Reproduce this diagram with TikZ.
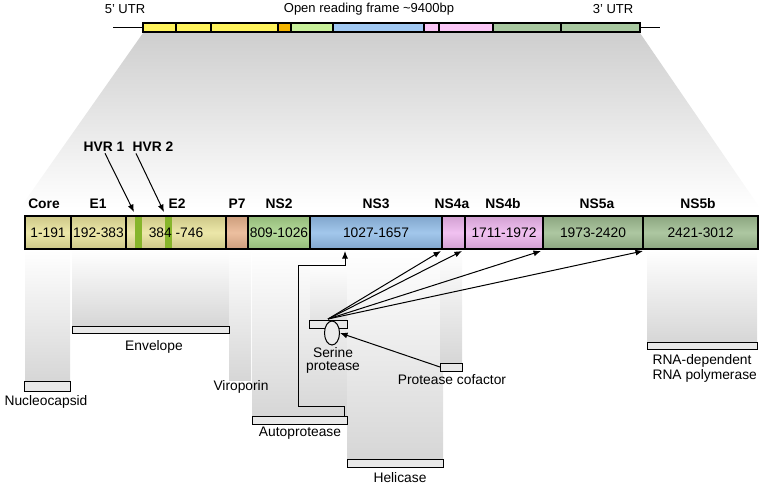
\documentclass[tikz,border=0pt]{standalone}
\usepackage{fontspec}
\setmainfont{Liberation Sans}
\usetikzlibrary{shapes.geometric,arrows.meta}
\definecolor{tyel}{HTML}{FFF35C}
\definecolor{tora}{HTML}{F4B400}
\definecolor{tgrn}{HTML}{C8F09A}
\definecolor{tblu}{HTML}{A0C8F2}
\definecolor{tpnk}{HTML}{FAC6F6}
\definecolor{tgg}{HTML}{A8C8A0}
\definecolor{ky}{HTML}{E9E39A}
\definecolor{hvr}{HTML}{86B52B}
\definecolor{cp7}{HTML}{E9B48E}
\definecolor{cns2}{HTML}{A8D48A}
\definecolor{cns3}{HTML}{92BDE8}
\definecolor{cns4}{HTML}{EEB6EE}
\definecolor{cns5}{HTML}{9FBD91}
\newcommand{\fs}{\fontsize{13.8}{15}\selectfont}
\newcommand{\fst}{\fontsize{13}{15}\selectfont}
\begin{document}
\begin{tikzpicture}[x=1pt,y=-1pt, line width=1.1pt,
  seg/.style={draw=black, inner sep=0pt, outer sep=0pt, anchor=north west, minimum height=33pt, font=\fs,
    top color=#1!88!black, bottom color=#1!88!black, middle color=#1!85!white},
  tseg/.style={draw=black, fill=#1, inner sep=0pt, outer sep=0pt, anchor=north west, minimum height=9pt},
  lab/.style={font=\fs\bfseries, inner sep=1pt},
  pbar/.style={draw=black, fill=gray!18, inner sep=0pt, outer sep=0pt, anchor=north west, line width=1pt},
  txt/.style={font=\fs, inner sep=1pt},
  col/.style={top color=white, bottom color=gray!32, draw=none},
  arr/.style={-{Latex[length=7.5pt,width=6pt]}, line width=1pt}]
\useasboundingbox (0,0) rectangle (765,487);

% grey trapezoid
\shade[top color=gray!38, bottom color=white] (143,33) -- (640,33) -- (760,208) -- (20,208) -- cycle;

% top bar
\node[txt, font=\fst] (utr5) at (125,9) {5' UTR};
\node[txt, font=\fst] (orf) at (369,9) {Open reading frame \textasciitilde 9400bp};
\node[txt, font=\fst] (utr3) at (613,9) {3' UTR};
\node[tseg=tyel, minimum width=33pt] (t1) at (143,23) {};
\node[tseg=tyel, minimum width=35pt] (t2) at (176,23) {};
\node[tseg=tyel, minimum width=67pt] (t3) at (211,23) {};
\node[tseg=tora, minimum width=13pt] (t4) at (278,23) {};
\node[tseg=tgrn, minimum width=42pt] (t5) at (291,23) {};
\node[tseg=tblu, minimum width=91pt] (t6) at (333,23) {};
\node[tseg=tpnk, minimum width=15pt] (t7) at (424,23) {};
\node[tseg=tpnk, minimum width=54pt] (t8) at (439,23) {};
\node[tseg=tgg, minimum width=68pt] (t9) at (493,23) {};
\node[tseg=tgg, minimum width=79pt] (t10) at (561,23) {};
\coordinate (lend) at (113,27.5);
\coordinate (rend) at (660,27.5);
\draw (lend) -- (t1.west);
\draw (t10.east) -- (rend);

% columns below the main bar
\shade[col] (25,250) rectangle (70,381);
\shade[col] (72,250) rectangle (229,326);
\shade[col] (229,250) rectangle (251,380);
\shade[col] (252,250) rectangle (347,416);
\shade[col, bottom color=gray!22] (310,262) rectangle (347,320);
\shade[col] (347,250) rectangle (443,459);
\shade[col] (440,250) rectangle (462,363);
\shade[col] (647,250) rectangle (757,342);

% main bar
\node[seg=ky, minimum width=46pt] (core) at (25,216) {1-191};
\node[seg=ky, minimum width=55pt] (e1) at (71,216) {192-383};
\node[seg=ky, minimum width=100pt] (e2) at (126,216) {};
\fill[hvr] (135,216.6) rectangle (142,248.4);
\fill[hvr] (165,216.6) rectangle (172,248.4);
\node[txt] (e2t) at (e2.center) {384 -746};
\node[seg=cp7, minimum width=22pt] (p7) at (226,216) {};
\node[seg=cns2, minimum width=62pt] (ns2) at (248,216) {809-1026};
\node[seg=cns3, minimum width=132pt] (ns3) at (310,216) {1027-1657};
\node[seg=cns4, minimum width=23pt] (ns4a) at (442,216) {};
\node[seg=cns4, minimum width=78pt] (ns4b) at (465,216) {1711-1972};
\node[seg=cns5, minimum width=100pt] (ns5a) at (543,216) {1973-2420};
\node[seg=cns5, minimum width=115pt] (ns5b) at (643,216) {2421-3012};

% labels above
\node[lab] (lcore) at (44,204) {Core};
\node[lab] (le1) at (98,204) {E1};
\node[lab] (le2) at (177,204) {E2};
\node[lab] (lp7) at (237,204) {P7};
\node[lab] (lns2) at (279,204) {NS2};
\node[lab] (lns3) at (376,204) {NS3};
\node[lab] (lns4a) at (452,204) {NS4a};
\node[lab] (lns4b) at (503,204) {NS4b};
\node[lab] (lns5a) at (597,204) {NS5a};
\node[lab] (lns5b) at (698,204) {NS5b};
\node[lab] (hvr1) at (104,147) {HVR 1};
\node[lab] (hvr2) at (153,147) {HVR 2};
\coordinate (h1tip) at (134,212);
\coordinate (h2tip) at (164,212);
\draw[arr] (hvr1.south) ++(1,0) -- (h1tip);
\draw[arr] (hvr2.south) ++(-17,0) -- (h2tip);

% protein bars and labels
\node[pbar, minimum width=46pt, minimum height=10pt] (nuc) at (24,381) {};
\node[txt, anchor=north] (lnuc) at (46,394) {Nucleocapsid};
\node[pbar, minimum width=157pt, minimum height=7pt] (env) at (72,326) {};
\node[txt, anchor=north] (lenv) at (154,339) {Envelope};
\node[txt] (lvir) at (241,387) {Viroporin};
\node[pbar, minimum width=95pt, minimum height=8pt] (auto) at (252,416) {};
\node[txt, anchor=north] (lauto) at (300,425) {Autoprotease};
\node[pbar, minimum width=96pt, minimum height=8pt] (heli) at (347,459) {};
\node[txt, anchor=north] (lheli) at (400,471) {Helicase};
\node[pbar, minimum width=38pt, minimum height=8pt] (serbar) at (309,320) {};
\node[draw=black, fill=gray!15, ellipse, minimum width=15pt, minimum height=24pt, inner sep=0pt, line width=1pt] (ser) at (332,333) {};
\node[txt, align=center, font=\fontsize{13.8}{13}\selectfont, anchor=north] (lser) at (333,346) {Serine\\protease};
\node[pbar, minimum width=22pt, minimum height=8pt] (cof) at (440,363) {};
\node[txt] (lcof) at (452,380) {Protease cofactor};
\node[pbar, minimum width=110pt, minimum height=7pt] (pol) at (647,342) {};
\node[txt, align=left, font=\fontsize{13.8}{15}\selectfont, anchor=north west] (lpol) at (651,353) {RNA-dependent\\RNA polymerase};

% connectors
\coordinate (sersrc) at (328,319);
\coordinate (c1) at (441,251);
\coordinate (c2) at (462,251);
\coordinate (c3) at (541,251);
\coordinate (c4) at (643,251);
\draw[arr] (sersrc) -- (c1);
\draw[arr] (sersrc) -- (c2);
\draw[arr] (sersrc) -- (c3);
\draw[arr] (sersrc) -- (c4);
\draw[arr] (cof.north west) ++(0,4) -- (ser.east);
\coordinate (autotip) at (345,251);
\draw[arr] (auto.north -| 344,0) -- (344,406) -- (298,406) -- (298,265) -- (345,265) -- (autotip);
\end{tikzpicture}
\end{document}
